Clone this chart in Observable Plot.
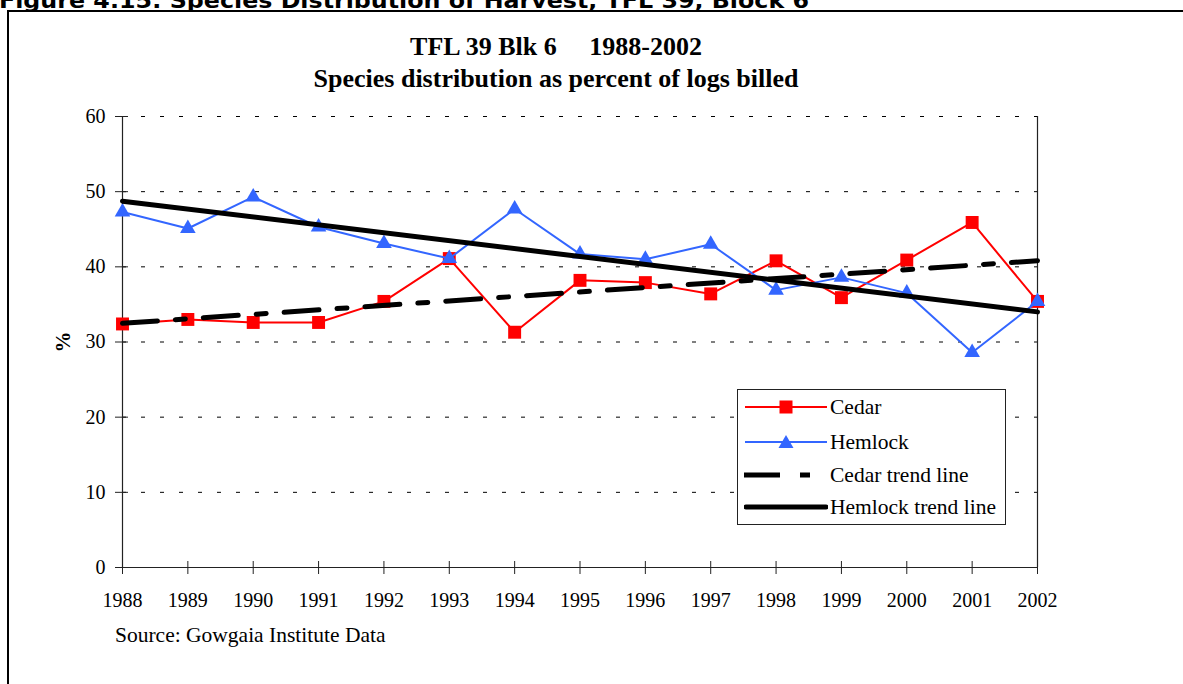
<!DOCTYPE html>
<html>
<head>
<meta charset="utf-8">
<script src="https://cdn.jsdelivr.net/npm/d3@7"></script>
<script src="https://cdn.jsdelivr.net/npm/@observablehq/plot@0.6"></script>
<style>
  html, body { margin: 0; padding: 0; background: #fff; }
  body { width: 1183px; height: 684px; position: relative; overflow: hidden; font-family: "Liberation Serif", "Times New Roman", serif; color: #000; }
  .abs { position: absolute; }
  #box { left: 7px; top: 10px; width: 1300px; height: 800px; border-left: 2px solid #000; border-top: 2px solid #000; }
  #title { left: 0; width: 1112px; top: 31px; text-align: center; font-weight: bold; font-size: 26px; line-height: 32px; white-space: pre; }
  #ylabel { left: 50px; top: 329px; width: 26px; height: 26px; font-weight: bold; font-size: 21px; transform: rotate(-90deg); text-align: center; line-height: 26px; }
  #source { left: 115px; top: 623px; font-size: 21.5px; }
  #legend { left: 737px; top: 389px; width: 267px; height: 134px; border: 1px solid #222; background: #fff; }
  .lrow { position: absolute; left: 6px; height: 24px; display: flex; align-items: center; font-size: 21.5px; white-space: nowrap; }
  .lrow svg { margin-right: 2px; }
  #chart { left: 0; top: 0; }
</style>
</head>
<body>
<div id="box" class="abs"></div>
<svg class="abs" style="left:0;top:0" width="1183" height="12">
  <text id="header" x="-1" y="7.5" font-family="DejaVu Sans, Verdana, sans-serif" font-weight="bold" font-size="21" textLength="810" lengthAdjust="spacingAndGlyphs">Figure 4.15: Species Distribution of Harvest, TFL 39, Block 6</text>
</svg>
<div id="title" class="abs"></div>
<div id="chart" class="abs"></div>
<div id="ylabel" class="abs">%</div>
<div id="source" class="abs"></div>
<div id="legend" class="abs"></div>
<script>
// ---- data ----
const years = [1988, 1989, 1990, 1991, 1992, 1993, 1994, 1995, 1996, 1997, 1998, 1999, 2000, 2001, 2002];
const cedar = [32.4, 33.0, 32.6, 32.6, 35.4, 41.1, 31.3, 38.2, 37.9, 36.4, 40.8, 35.9, 40.9, 45.9, 35.4];
const hemlock = [47.3, 45.1, 49.3, 45.3, 43.1, 41.1, 47.7, 41.7, 41.0, 43.0, 36.9, 38.6, 36.5, 28.6, 35.4];
const yTicks = [0, 10, 20, 30, 40, 50, 60];
const seriesNames = ["Cedar", "Hemlock", "Cedar trend line", "Hemlock trend line"];
const titleLines = ["TFL 39 Blk 6     1988-2002", "Species distribution as percent of logs billed"];
const sourceText = "Source: Gowgaia Institute Data";

// ---- styles ----
const RED = "#FF0000", BLUE = "#3366FF";
const DASH = "35,18,10,18";

const cedarData = years.map((year, i) => ({year, value: cedar[i]}));
const hemlockData = years.map((year, i) => ({year, value: hemlock[i]}));

const chart = Plot.plot({
  width: 1183,
  height: 684,
  marginLeft: 122,
  marginRight: 146,
  marginTop: 116,
  marginBottom: 117,
  style: {fontFamily: "Liberation Serif, Times New Roman, serif", fontSize: "20px", color: "#000", background: "transparent", overflow: "visible"},
  x: {domain: [years[0], years[years.length - 1]], label: null},
  y: {domain: [yTicks[0], yTicks[yTicks.length - 1]], label: null},
  marks: [
    Plot.gridY(yTicks.slice(1), {stroke: "#000", strokeOpacity: 1, strokeWidth: 1, strokeDasharray: "4,15"}),
    Plot.ruleY([yTicks[0]], {stroke: "#222", strokeWidth: 1.2}),
    Plot.ruleX([years[0], years[years.length - 1]], {stroke: "#222", strokeWidth: 1.2}),
    Plot.axisX({ticks: years, tickFormat: d => String(d), tickSize: 13, dy: -6, tickPadding: 18, stroke: "#222"}),
    Plot.axisY({ticks: yTicks, tickSize: 13, dx: 6, tickPadding: 10, stroke: "#222"}),
    Plot.line(cedarData, {x: "year", y: "value", stroke: RED, strokeWidth: 2}),
    Plot.dot(cedarData, {x: "year", y: "value", symbol: "square", r: 7.3, fill: RED, stroke: "none"}),
    Plot.line(hemlockData, {x: "year", y: "value", stroke: BLUE, strokeWidth: 2}),
    Plot.dot(hemlockData, {x: "year", y: "value", symbol: "triangle", r: 5.8, fill: BLUE, stroke: "none"}),
    Plot.linearRegressionY(cedarData, {x: "year", y: "value", stroke: "#000", strokeWidth: 5, strokeDasharray: DASH, ci: 0}),
    Plot.linearRegressionY(hemlockData, {x: "year", y: "value", stroke: "#000", strokeWidth: 5, ci: 0})
  ]
});
document.getElementById("chart").appendChild(chart);

document.getElementById("title").textContent = titleLines.join("\n");
document.getElementById("source").textContent = sourceText;

// ---- legend ----
const legend = document.getElementById("legend");
const rowTops = [5, 40, 73, 105];
const ns = "http://www.w3.org/2000/svg";
seriesNames.forEach((name, i) => {
  const row = document.createElement("div");
  row.className = "lrow";
  row.style.top = rowTops[i] + "px";
  const svg = document.createElementNS(ns, "svg");
  svg.setAttribute("width", 84);
  svg.setAttribute("height", 24);
  const line = document.createElementNS(ns, "line");
  line.setAttribute("x1", 1); line.setAttribute("x2", 83);
  line.setAttribute("y1", 12); line.setAttribute("y2", 12);
  if (i === 0) { line.setAttribute("stroke", RED); line.setAttribute("stroke-width", 2); }
  if (i === 1) { line.setAttribute("stroke", BLUE); line.setAttribute("stroke-width", 2); }
  if (i >= 2) { line.setAttribute("stroke", "#000"); line.setAttribute("stroke-width", 5); line.setAttribute("x1", 2); line.setAttribute("x2", 82); }
  if (i === 2) { line.setAttribute("stroke-dasharray", "36,20,10,20"); line.setAttribute("x1", 0); }
  if (i === 3) { line.setAttribute("stroke-linecap", "round"); }
  svg.appendChild(line);
  if (i === 0) {
    const r = document.createElementNS(ns, "rect");
    r.setAttribute("x", 35.5); r.setAttribute("y", 5.5); r.setAttribute("width", 13); r.setAttribute("height", 13); r.setAttribute("fill", RED);
    svg.appendChild(r);
  }
  if (i === 1) {
    const p = document.createElementNS(ns, "path");
    p.setAttribute("d", "M42,5 L49.5,18 L34.5,18 Z"); p.setAttribute("fill", BLUE);
    svg.appendChild(p);
  }
  row.appendChild(svg);
  const t = document.createElement("span");
  t.textContent = name;
  row.appendChild(t);
  legend.appendChild(row);
});
</script>
</body>
</html>
